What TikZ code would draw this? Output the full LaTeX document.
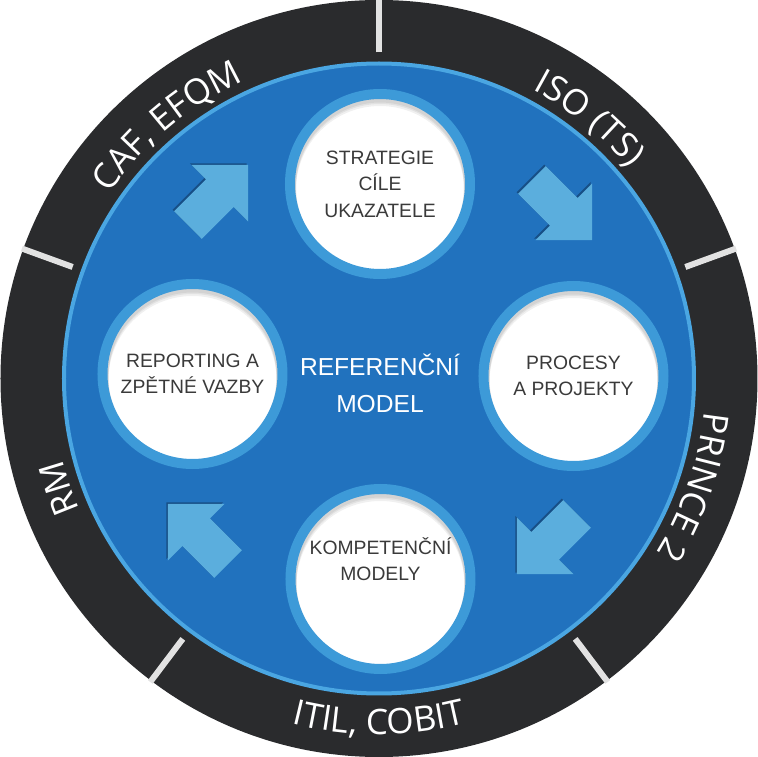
\documentclass[tikz,border=0pt]{standalone}
\usepackage{fontspec}
\setmainfont{Liberation Sans}
\newfontfamily\ringfont{Open Sans}
\usetikzlibrary{decorations.text}
\definecolor{refDark}{HTML}{2A2B2D}
\definecolor{refBlue}{HTML}{2172BE}
\definecolor{refRim}{HTML}{4AA6E2}
\definecolor{refRing}{HTML}{3D9AD8}
\definecolor{refArrow}{HTML}{5BAEDD}
\definecolor{refShade}{HTML}{174F86}
\definecolor{refText}{HTML}{3A3A3A}
\definecolor{refSep}{HTML}{E2E2E2}

% outline of one block arrow, pointing along +x
\newcommand{\arrowoutline}{(-42.5,-19.5) -- (2.5,-19.5) -- (2.5,-40) -- (42.5,0)
  -- (2.5,40) -- (2.5,19.5) -- (-42.5,19.5) -- cycle}
% block arrow with its dark edge: #1 centre, #2 direction
\newcommand{\cyclearrow}[2]{%
  \fill[refShade, shift={#1}, xshift=-0.3mm, yshift=0.3mm, rotate=#2] \arrowoutline;
  \fill[refArrow, shift={#1}, rotate=#2] \arrowoutline;}

\begin{document}
\begin{tikzpicture}[x=0.2mm, y=0.2mm,
  stage/.style={circle, fill=white, draw=refRing, line width=2mm,
    minimum size=36mm, inner sep=0pt, align=center, text=refText,
    font=\fontsize{11}{15}\selectfont,
    path picture={
      \foreach \d in {1.2,0.8,0.5}
        \fill[black, opacity=0.06, even odd rule]
          (path picture bounding box.center) circle (100)
          ([yshift=-\d mm]path picture bounding box.center) circle (84);}},
  ringlabel/.style={decorate, decoration={text along path, text align=center}}]

  \useasboundingbox (-379,-378.5) rectangle (379,378.5);

  % outer ring and blue disc
  \fill[refDark] (0,0) circle (378.5);
  \fill[refBlue] (0,0) circle (315);
  \draw[refRim, line width=0.8mm] (0,0) circle (315);

  % separators of the ring
  \foreach \a in {90,20,-53,-127,160}
    \draw[refSep, line width=1.2mm] (\a:326) -- (\a:380);

  % ring labels
  \path[ringlabel, decoration={text={|\color{white}\ringfont\fontsize{20}{24}\selectfont|CAF, EFQM}}]
    (170:327) arc[start angle=170, end angle=90, radius=327];
  \path[ringlabel, decoration={text={|\color{white}\ringfont\fontsize{20}{24}\selectfont|ISO (TS)}}]
    (91:327) arc[start angle=91, end angle=11, radius=327];
  \path[ringlabel, decoration={text={|\color{white}\ringfont\fontsize{20}{24}\selectfont|PRINCE 2}}]
    (21:327) arc[start angle=21, end angle=-59, radius=327];
  \path[ringlabel, decoration={text={|\color{white}\ringfont\fontsize{20}{24}\selectfont|ITIL, COBIT}}]
    (-130:356) arc[start angle=-130, end angle=-50, radius=356];
  \path[ringlabel, decoration={text={|\color{white}\ringfont\fontsize{20}{24}\selectfont|RM}}]
    (239:327) arc[start angle=239, end angle=159, radius=327];

  % cycle arrows
  \cyclearrow{(-161,183.5)}{45}
  \cyclearrow{(183,168.5)}{-45}
  \cyclearrow{(168,-165.5)}{-135}
  \cyclearrow{(-181,-155.5)}{135}

  % stages
  \node[stage] (strategy) at (1,194.5) {STRATEGIE\\CÍLE\\UKAZATELE};
  \node[stage] (process) at (194.5,2.5) {PROCESY\\A PROJEKTY};
  \node[stage] (skills) at (1.5,-200.5) {KOMPETENČNÍ\\MODELY\\[8pt]};
  \node[stage] (report) at (-186.5,4.5) {REPORTING A\\ZPĚTNÉ VAZBY};

  \node[text=white, align=center, font=\fontsize{14}{21}\selectfont] (core) at (1,-5)
    {REFERENČNÍ\\MODEL};
\end{tikzpicture}
\end{document}
